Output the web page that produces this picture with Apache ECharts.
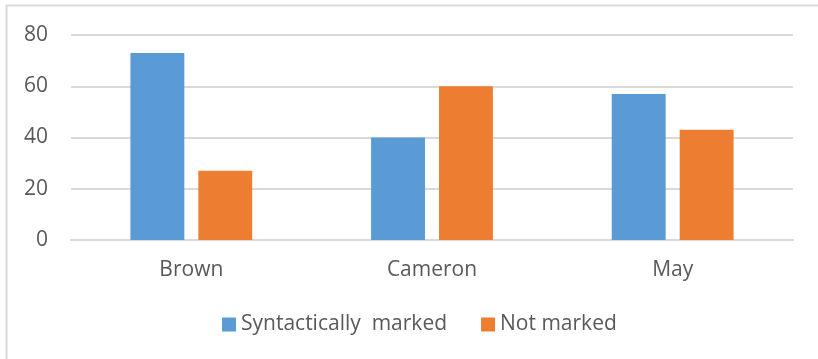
<!DOCTYPE html>
<html><head><meta charset="utf-8">
<script src="https://cdn.jsdelivr.net/npm/echarts@6/dist/echarts.min.js"></script>
<style>html,body{margin:0;padding:0;background:#fff}#c{width:818px;height:359px}</style>
</head><body><div id="c"></div>
<script>
const categories = ["Brown", "Cameron", "May"];
const seriesNames = ["Syntactically  marked", "Not marked"];
const syntacticallyMarked = [73, 40, 57];
const notMarked = [27, 60, 43];
const yTicks = {min: 0, max: 80, interval: 20};

const chart = echarts.init(document.getElementById('c'), null, {renderer: 'canvas'});
const font = '"Open Sans", sans-serif';
chart.setOption({
  animation: false,
  graphic: [{type: 'rect', shape: {x: 6.5, y: 5.5, width: 900, height: 500}, style: {fill: null, stroke: '#d9d9d9', lineWidth: 2}, silent: true}],
  grid: {left: 71, right: 25, top: 35, bottom: 119, containLabel: false},
  legend: {
    bottom: 19, left: 217, itemWidth: 14, itemHeight: 14, itemGap: 34, itemStyle: {borderWidth: 0},
    icon: 'rect',
    textStyle: {color: '#595959', fontSize: 21, fontFamily: font},
    data: seriesNames
  },
  xAxis: {
    type: 'category', data: categories,
    axisLine: {lineStyle: {color: '#d9d9d9', width: 2}},
    axisTick: {show: false},
    axisLabel: {color: '#595959', fontSize: 21, fontFamily: font, margin: 20}
  },
  yAxis: {
    type: 'value', min: yTicks.min, max: yTicks.max, interval: yTicks.interval,
    axisLine: {show: false}, axisTick: {show: false},
    splitLine: {lineStyle: {color: '#d9d9d9', width: 2}},
    axisLabel: {color: '#595959', fontSize: 21, fontFamily: font, margin: 23}
  },
  series: [
    {name: seriesNames[0], type: 'bar', data: syntacticallyMarked, barWidth: '22.4%', barGap: '26%', itemStyle: {color: '#5b9bd5'}},
    {name: seriesNames[1], type: 'bar', data: notMarked, barWidth: '22.4%', barGap: '26%', itemStyle: {color: '#ed7d31'}}
  ]
});
</script></body></html>
